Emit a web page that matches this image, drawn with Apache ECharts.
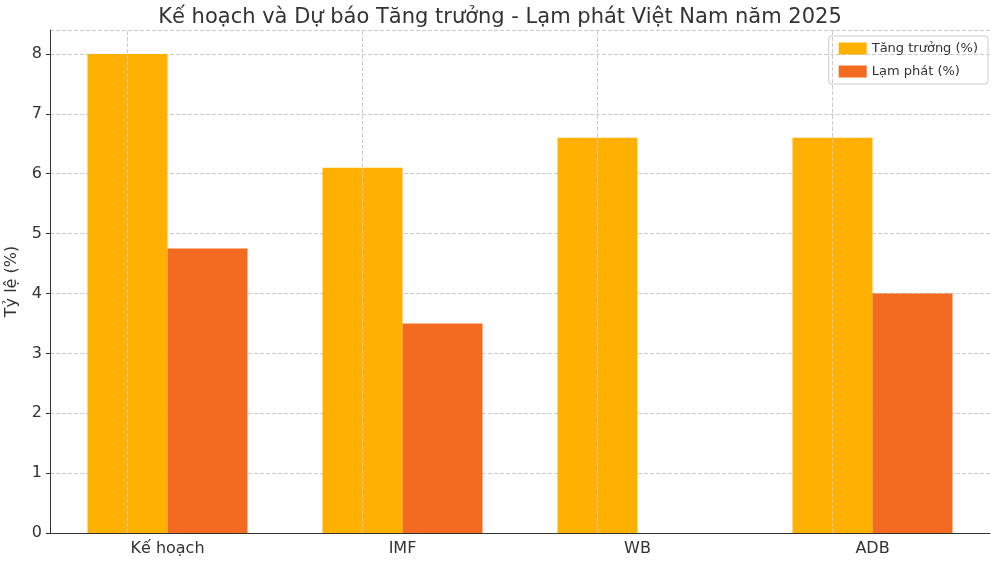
<!DOCTYPE html><html><head><meta charset="utf-8"><script src="https://cdn.jsdelivr.net/npm/echarts@6/dist/echarts.min.js"></script></head><body style="margin:0"><div id="c" style="width:1000px;height:562px"></div><script>
const categories=['Kế hoạch','IMF','WB','ADB'];
const growth=[8.0,6.1,6.6,6.6];
const inflation=[4.75,3.5,null,4.0];
const c=echarts.init(document.getElementById('c'));
c.setOption({animation:false,
title:{text:'Kế hoạch và Dự báo Tăng trưởng - Lạm phát Việt Nam năm 2025',left:'center',top:2,textStyle:{fontFamily:'DejaVu Sans',fontSize:21,fontWeight:'normal',color:'#333'}},
legend:{right:12,top:36,orient:'vertical',icon:'rect',itemWidth:28,itemHeight:12,itemGap:10,padding:[6,10],borderColor:'#ccc',borderWidth:1,borderRadius:3,textStyle:{fontFamily:'DejaVu Sans',fontSize:13,color:'#333'}},
grid:{left:50,right:10,top:30,bottom:29,outerBoundsMode:'none',containLabel:false},
xAxis:{type:'category',data:categories,name:'Tổ chức',nameLocation:'middle',nameGap:38,nameTextStyle:{fontFamily:'DejaVu Sans',fontSize:16,color:'#333'},axisTick:{alignWithLabel:true,length:4,lineStyle:{color:'#333'}},axisLine:{lineStyle:{color:'#333'}},axisLabel:{fontFamily:'DejaVu Sans',fontSize:16,color:'#333'},splitLine:{show:false}},
yAxis:{type:'value',min:0,max:8.4,interval:1,name:'Tỷ lệ (%)',nameLocation:'middle',nameGap:30,nameTextStyle:{fontFamily:'DejaVu Sans',fontSize:16,color:'#333'},axisLine:{show:true,lineStyle:{color:'#333'}},axisTick:{show:true,length:4},axisLabel:{fontFamily:'DejaVu Sans',fontSize:16,color:'#333',showMaxLabel:false},splitLine:{lineStyle:{type:'dashed',color:'#ccc'}}},
series:[{name:'Tăng trưởng (%)',type:'bar',data:growth,barWidth:80,barGap:'0%',itemStyle:{color:'#FFB000'},z:3,
markLine:{silent:true,symbol:'none',label:{show:false},lineStyle:{type:'dashed',color:'#ccc',width:1},data:categories.map(k=>({xAxis:k}))},zlevel:0},
{name:'Lạm phát (%)',type:'bar',data:inflation,barWidth:80,itemStyle:{color:'#F26B21'},z:3}]});
</script></body></html>
